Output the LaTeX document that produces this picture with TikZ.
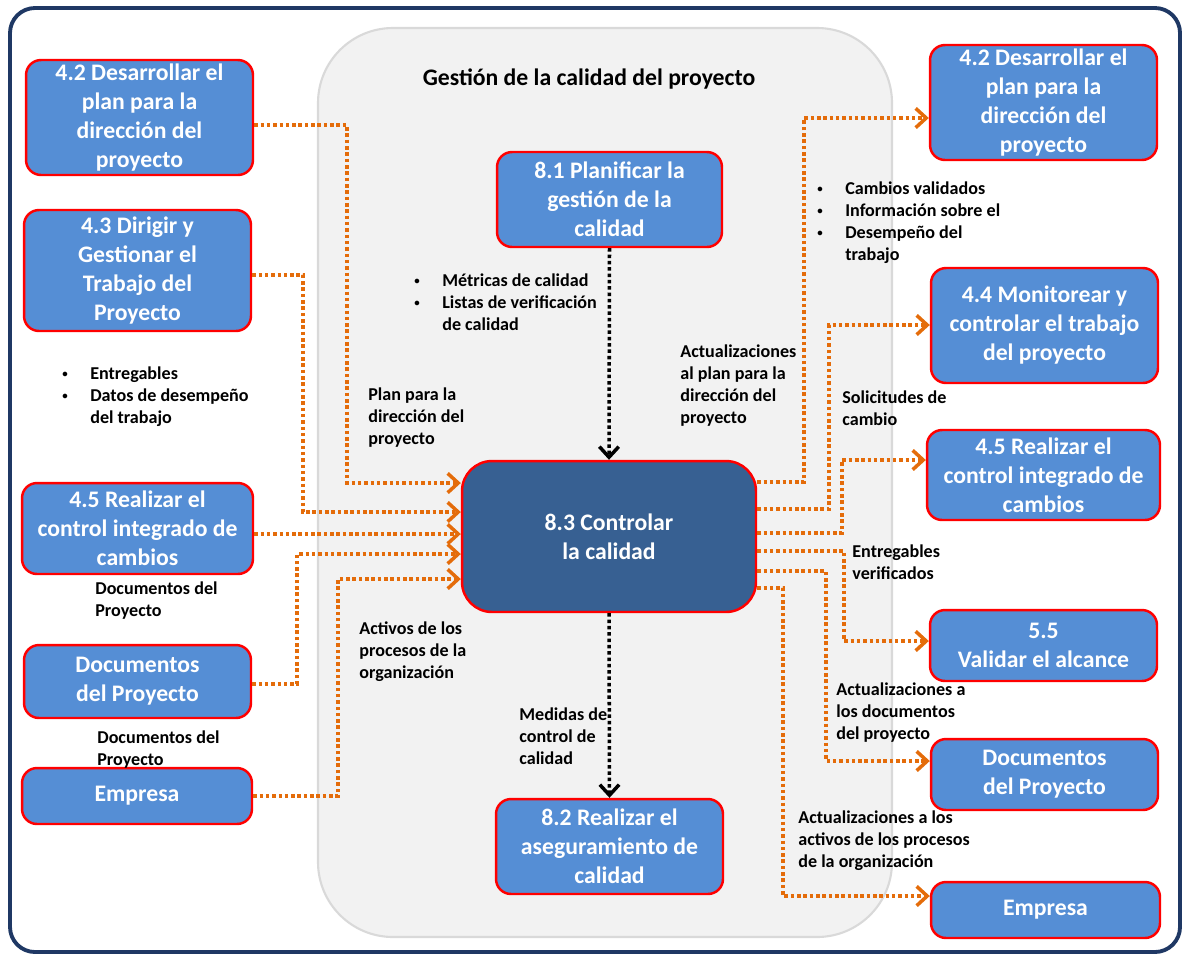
\documentclass[tikz,border=0pt]{standalone}
\usepackage{fontspec}
\setmainfont{Carlito}
\usetikzlibrary{arrows.meta}

\definecolor{boxblue}{HTML}{558ED5}
\definecolor{mainblue}{HTML}{376092}
\definecolor{flowor}{HTML}{E46C0A}
\definecolor{framenavy}{HTML}{1F3864}
\definecolor{panelgray}{HTML}{F2F2F2}
\definecolor{panelline}{HTML}{D9D9D9}

\newcommand{\bul}{\makebox[15.9pt][l]{\raisebox{0.2ex}{\scalebox{0.6}{\textbullet}}}}
\newcommand{\ind}{\hspace*{15.9pt}}

\begin{document}
\begin{tikzpicture}[x=0.02cm,y=-0.02cm,
  proc/.style={draw=red,line width=1.4pt,fill=boxblue,rounded corners=0.3cm,text=white,
    font=\fontsize{13.5}{16.5}\selectfont\bfseries,align=center,inner sep=0pt},
  lbl/.style={anchor=north west,inner sep=0pt,align=left,font=\fontsize{10.3}{12.7}\selectfont\bfseries},
  flow/.style={draw=flowor,line width=2pt,dash pattern=on 2pt off 1.6pt,-{Straight Barb[length=6pt,width=11pt]}},
  ctrl/.style={draw=black,line width=2pt,dash pattern=on 2pt off 1.6pt,-{Straight Barb[length=6pt,width=11pt]}}]
\useasboundingbox (0,0) rectangle (1182,954);
% frame and panel
\draw[framenavy,line width=2.2pt,rounded corners=0.5cm] (10,8) rectangle (1180,952);
\draw[panelline,fill=panelgray,line width=1.2pt,rounded corners=1.5cm] (318,28) rectangle (892,937);
\node[font=\fontsize{13.5}{15}\selectfont\bfseries] (title) at (589,79) {Gestión de la calidad del proyecto};

% inputs
\node[proc,minimum width=4.54cm,minimum height=2.3cm] (l1) at (139.5,117.5) {4.2 Desarrollar el\\plan para la\\dirección del\\proyecto};
\node[proc,minimum width=4.54cm,minimum height=2.42cm] (l2) at (137.5,270.5) {4.3 Dirigir y\\Gestionar el\\Trabajo del\\Proyecto};
\node[proc,minimum width=4.62cm,minimum height=1.82cm] (l3) at (137.5,528.5) {4.5 Realizar el\\control integrado de\\cambios};
\node[proc,minimum width=4.54cm,minimum height=1.46cm] (l4) at (137.5,681.5) {Documentos\\del Proyecto};
\node[proc,minimum width=4.6cm,minimum height=1.12cm] (l5) at (137,796) {Empresa};

% process
\node[proc,minimum width=4.5cm,minimum height=1.9cm] (c1) at (609.5,199.5) {8.1 Planificar la\\gestión de la\\calidad};
\node[proc,fill=mainblue,rounded corners=0.6cm,minimum width=5.88cm,minimum height=3.02cm] (main) at (609,536.5) {8.3 Controlar\\la calidad};
\node[proc,minimum width=4.54cm,minimum height=1.9cm] (c2) at (609.5,846.5) {8.2 Realizar el\\aseguramiento de\\calidad};

% outputs
\node[proc,minimum width=4.54cm,minimum height=2.3cm] (r1) at (1043.5,102.5) {4.2 Desarrollar el\\plan para la\\dirección del\\proyecto};
\node[proc,minimum width=4.54cm,minimum height=2.3cm] (r2) at (1044.5,325.5) {4.4 Monitorear y\\controlar el trabajo\\del proyecto};
\node[proc,minimum width=4.66cm,minimum height=1.8cm] (r3) at (1043.5,475) {4.5 Realizar el\\control integrado de\\cambios};
\node[proc,minimum width=4.54cm,minimum height=1.42cm] (r4) at (1043.5,645.5) {5.5\\Validar el alcance};
\node[proc,minimum width=4.54cm,minimum height=1.42cm] (r5) at (1044.5,774.5) {Documentos\\del Proyecto};
\node[proc,minimum width=4.58cm,minimum height=1.12cm] (r6) at (1045.5,910) {Empresa};

% connectors
\draw[flow] (l1.east |- 0,125) -- (347,125) |- (main.west |- 0,483);
\draw[flow] (l2.east |- 0,275) -- (303,275) |- (main.west |- 0,512);
\draw[flow] (l3.east |- 0,534) -- (main.west |- 0,534);
\draw[flow] (l4.east |- 0,684) -- (297,684) |- (main.west |- 0,554);
\draw[flow] (l5.east |- 0,796) -- (338,796) |- (main.west |- 0,579);
\draw[ctrl] (c1.south) -- (main.north);
\draw[ctrl] (main.south) -- (c2.north);
\draw[flow] (main.east |- 0,482) -- (804,482) |- (r1.west |- 0,118);
\draw[flow] (main.east |- 0,509) -- (829,509) |- (r2.west |- 0,325);
\draw[flow] (main.east |- 0,533) -- (842,533) |- (r3.west |- 0,460);
\draw[flow] (main.east |- 0,551) -- (844,551) |- (r4.west |- 0,641);
\draw[flow] (main.east |- 0,571) -- (826,571) |- (r5.west |- 0,761);
\draw[flow] (main.east |- 0,588) -- (783,588) |- (r6.west |- 0,896);

% labels
\node[lbl] (t1) at (414,273) {\bul Métricas de calidad\\\bul Listas de verificación\\\ind de calidad};
\node[lbl] (t2) at (62,366) {\bul Entregables\\\bul Datos de desempeño\\\ind del trabajo};
\node[lbl] (t3) at (368,387) {Plan para la\\dirección del\\proyecto};
\node[lbl] (t4) at (680,344) {Actualizaciones\\al plan para la\\dirección del\\proyecto};
\node[lbl] (t5) at (817,181) {\bul Cambios validados\\\bul Información sobre el\\\bul Desempeño del\\\ind trabajo};
\node[lbl] (t6) at (842,390) {Solicitudes de\\cambio};
\node[lbl] (t7) at (852,544) {Entregables\\verificados};
\node[lbl] (t8) at (836,682) {Actualizaciones a\\los documentos\\del proyecto};
\node[lbl] (t9) at (798,810) {Actualizaciones a los\\activos de los procesos\\de la organización};
\node[lbl] (t10) at (95,581) {Documentos del\\Proyecto};
\node[lbl] (t11) at (359,621) {Activos de los\\procesos de la\\organización};
\node[lbl] (t12) at (97,730) {Documentos del\\Proyecto};
\node[lbl] (t13) at (519,707) {Medidas de\\control de\\calidad};
\end{tikzpicture}
\end{document}
